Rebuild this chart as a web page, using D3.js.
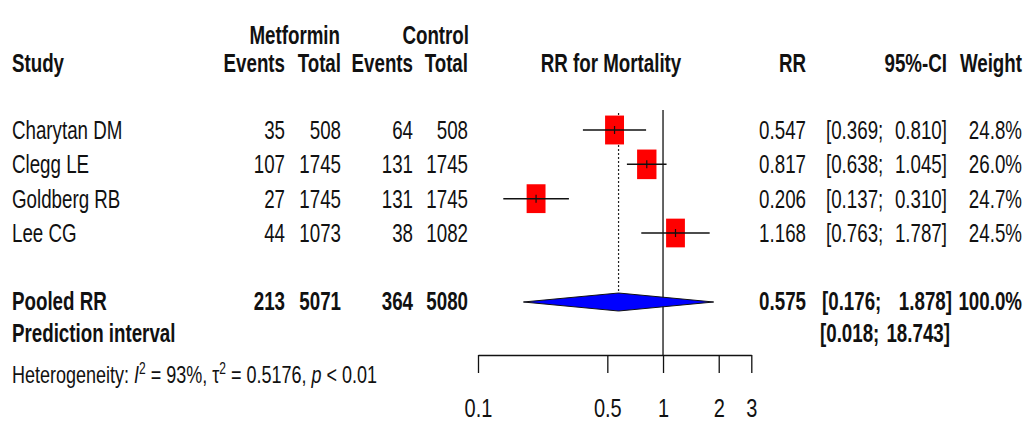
<!DOCTYPE html>
<meta charset="utf-8">
<style>
body { margin: 0; background: #fff; }
svg text { font-family: "Liberation Sans", Arial, sans-serif; fill: #111; }
.b { font-weight: bold; }
</style>
<body>
<svg width="1026" height="421"></svg>
<script src="https://d3js.org/d3.v7.min.js"></script>
<script>

// study data
var studies = ["Charytan DM", "Clegg LE", "Goldberg RB", "Lee CG"];
var metEvents = [35, 107, 27, 44];
var metTotal = [508, 1745, 1745, 1073];
var ctlEvents = [64, 131, 131, 38];
var ctlTotal = [508, 1745, 1745, 1082];
var rr = [0.547, 0.817, 0.206, 1.168];
var lower = [0.369, 0.638, 0.137, 0.763];
var upper = [0.810, 1.045, 0.310, 1.787];
var weight = [24.8, 26.0, 24.7, 24.5];

// pooled
var pooled = {label: "Pooled RR", metE: 213, metT: 5071, ctlE: 364, ctlT: 5080,
              rr: 0.575, lo: 0.176, hi: 1.878, w: 100.0};
var predInterval = [0.018, 18.743];
var axisTicks = [0.1, 0.5, 1, 2, 3];

var svg = d3.select("svg");

var x = d3.scaleLog().domain([0.1, 3]).range([478, 751.3]);
var rowY = d3.scalePoint().domain(studies).range([130, 233]);
var boxW = d3.scaleSqrt().domain([0, 25]).range([0, 19]),
    boxH = d3.scaleSqrt().domain([0, 25]).range([0, 29]);

// the original uses a condensed face; squeeze regular Liberation Sans instead
var fs = 25, base = 9, sx = 0.75;

function txt(x0, y0, s, anchor, cls, size) {
  return svg.append("text")
      .attr("transform", "translate(" + x0 + "," + y0 + ") scale(" + sx + ",1)")
      .attr("text-anchor", anchor || "start")
      .attr("class", cls || null)
      .style("font-size", (size || fs) + "px")
      .style("white-space", "pre")
      .text(s);
}

var f3 = d3.format(".3f"), f1 = function(v) { return d3.format(".1f")(v) + "%"; };

// interval text: "[lo;" flush left, "hi]" flush right
function interval(xl, xr, y0, a, b, cls) {
  txt(xl, y0, "[" + f3(a) + ";", "start", cls);
  txt(xr, y0, f3(b) + "]", "end", cls);
}

// headers
txt(340, 44, "Metformin", "end", "b");
txt(469, 44, "Control", "end", "b");
txt(12, 72, "Study", "start", "b");
txt(285, 72, "Events", "end", "b");
txt(341, 72, "Total", "end", "b");
txt(413, 72, "Events", "end", "b");
txt(468, 72, "Total", "end", "b");
txt(611, 72, "RR for Mortality", "middle", "b");
txt(806, 72, "RR", "end", "b");
txt(947, 72, "95%-CI", "end", "b");
txt(1022, 72, "Weight", "end", "b");

// reference line at 1 and dotted pooled line
svg.append("line")
    .attr("x1", x(1)).attr("x2", x(1))
    .attr("y1", 110).attr("y2", 355)
    .attr("stroke", "#111").attr("stroke-width", 1.3);
svg.append("line")
    .attr("x1", x(pooled.rr)).attr("x2", x(pooled.rr))
    .attr("y1", 113).attr("y2", 294)
    .attr("stroke", "#222").attr("stroke-width", 1.2)
    .attr("stroke-dasharray", "2,2");

// study rows
studies.forEach(function(s, i) {
  var y = rowY(s);
  txt(12, y + base, s);
  txt(285, y + base, metEvents[i], "end");
  txt(341, y + base, metTotal[i], "end");
  txt(413, y + base, ctlEvents[i], "end");
  txt(468, y + base, ctlTotal[i], "end");
  txt(806, y + base, f3(rr[i]), "end");
  interval(826, 947, y + base, lower[i], upper[i]);
  txt(1022, y + base, f1(weight[i]), "end");

  var w = boxW(weight[i]), h = boxH(weight[i]);
  svg.append("rect")
      .attr("x", x(rr[i]) - w / 2).attr("y", y - h / 2)
      .attr("width", w).attr("height", h)
      .attr("fill", "#ff0000");
  svg.append("line")
      .attr("x1", x(lower[i])).attr("x2", x(upper[i]))
      .attr("y1", y).attr("y2", y)
      .attr("stroke", "#111").attr("stroke-width", 1.5);
  svg.append("line")
      .attr("x1", x(rr[i])).attr("x2", x(rr[i]))
      .attr("y1", y - 4).attr("y2", y + 4)
      .attr("stroke", "#111").attr("stroke-width", 1.2);
});

// pooled row
var py = 302, pb = 310;
txt(12, pb, pooled.label, "start", "b");
txt(285, pb, pooled.metE, "end", "b");
txt(341, pb, pooled.metT, "end", "b");
txt(413, pb, pooled.ctlE, "end", "b");
txt(468, pb, pooled.ctlT, "end", "b");
txt(806, pb, f3(pooled.rr), "end", "b");
interval(822, 952, pb, pooled.lo, pooled.hi, "b");
txt(1022, pb, f1(pooled.w), "end", "b");

svg.append("path")
    .attr("d", d3.line()([[x(pooled.lo), py], [x(pooled.rr), py - 9],
                          [x(pooled.hi), py], [x(pooled.rr), py + 9]]) + "Z")
    .attr("fill", "#0000ff").attr("stroke", "#111").attr("stroke-width", 1);

// prediction interval
txt(12, 342, "Prediction interval", "start", "b");
interval(820, 950, 342, predInterval[0], predInterval[1], "b");

// heterogeneity
var het = txt(12, 383, "", "start", null, 24);
het.append("tspan").text("Heterogeneity: ");
het.append("tspan").style("font-style", "italic").text("I");
het.append("tspan").attr("dy", -9).style("font-size", "16px").text("2");
het.append("tspan").attr("dy", 9).text(" = 93%, \u03c4");
het.append("tspan").attr("dy", -9).style("font-size", "16px").text("2");
het.append("tspan").attr("dy", 9).text(" = 0.5176, ");
het.append("tspan").style("font-style", "italic").text("p");
het.append("tspan").text(" < 0.01");

// axis
var ax = svg.append("g")
    .attr("transform", "translate(0,355)")
    .call(d3.axisBottom(x).tickValues(axisTicks)
      .tickFormat(d3.format("")).tickSize(18).tickPadding(26).tickSizeOuter(0));
ax.select(".domain").attr("stroke", "#111").attr("stroke-width", 1.3);
ax.selectAll(".tick line").attr("stroke", "#111").attr("stroke-width", 1.3);
ax.selectAll(".tick text")
    .attr("transform", "scale(0.8,1)")
    .style("font-size", "25px")
    .style("font-family", "'Liberation Sans', Arial, sans-serif")
    .attr("fill", "#111");

</script>
</body>
